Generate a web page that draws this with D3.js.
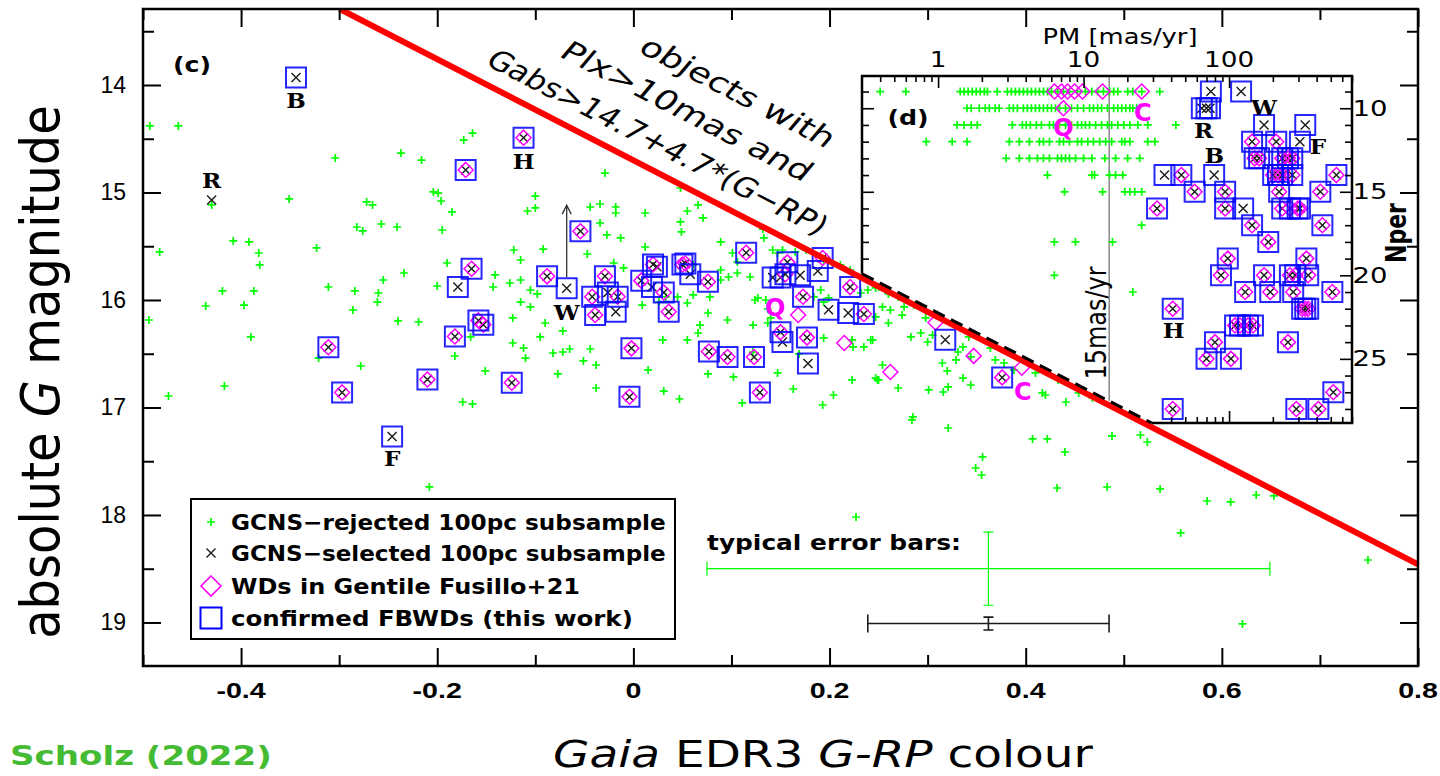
<!DOCTYPE html>
<html><head><meta charset="utf-8">
<script src="https://cdn.jsdelivr.net/npm/d3@7/dist/d3.min.js"></script>
<style>html,body{margin:0;padding:0;background:#fff;}svg{display:block;}</style>
</head><body>
<svg id="chart" width="1440" height="776"></svg>
<script>
// ================= DATA =================
const cRange = [-0.5, 0.8];            // G-RP colour range
const gRange = [13.293, 19.405];       // absolute G range (top -> bottom)
const xMajorTicks = [-0.4, -0.2, 0, 0.2, 0.4, 0.6, 0.8];
const xMinorTicks = [-0.5, -0.3, -0.1, 0.1, 0.3, 0.5, 0.7];
const xTickLabels = ["-0.4", "-0.2", "0", "0.2", "0.4", "0.6", "0.8"];
const yMajorTicks = [14, 15, 16, 17, 18, 19];
const yMinorTicks = [13.5, 14.5, 15.5, 16.5, 17.5, 18.5];
const yTickLabels = ["14", "15", "16", "17", "18", "19"];
const cutA = 14.7, cutB = 4.7;         // Gabs > 14.7 + 4.7*(G-RP)
const insetEdgeOffset = 0.04;          // inset lower edge, parallel to the cut

// GCNS-rejected 100pc subsample  [G-RP, Gabs]
const rejected = [
[-0.493,14.381],[-0.464,14.381],[-0.304,14.679],[-0.237,14.633],[-0.216,14.698],[-0.173,14.512],[-0.164,14.447],
[-0.430,15.116],[-0.351,15.060],[-0.272,15.088],[-0.266,15.116],[-0.257,15.293],[-0.282,15.321],[-0.276,15.358],
[-0.241,15.321],[-0.204,14.995],[-0.199,15.005],[-0.196,15.079],[-0.185,15.181],[-0.195,15.349],[-0.483,15.553],
[-0.408,15.451],[-0.392,15.460],[-0.382,15.563],[-0.323,15.516],[-0.381,15.674],[-0.436,16.056],[-0.419,15.916],
[-0.387,15.916],[-0.397,16.047],[-0.494,16.186],[-0.390,16.344],[-0.321,16.540],[-0.311,15.879],[-0.284,15.916],
[-0.286,16.093],[-0.260,15.935],[-0.261,16.019],[-0.255,15.814],[-0.234,15.749],[-0.200,15.870],[-0.190,15.656],
[-0.141,15.767],[-0.143,15.879],[-0.240,16.195],[-0.219,16.205],[-0.182,16.521],[-0.166,16.344],[-0.278,16.614],
[-0.151,16.660],[-0.174,16.949],[-0.164,16.967],[-0.417,16.800],[-0.474,16.893],[-0.208,17.739],
[-0.029,14.819],[-0.100,15.033],[-0.108,15.172],[-0.100,15.144],[-0.044,15.135],[-0.034,15.107],[-0.018,15.135],
[-0.018,15.191],[0.012,15.191],[0.048,14.958],[0.055,15.172],[0.066,15.116],[0.071,15.237],[0.048,15.274],
[0.049,15.367],[-0.027,15.395],[-0.013,15.423],[-0.047,15.572],[-0.034,15.284],[-0.092,15.526],[-0.122,15.535],
[-0.115,15.628],[-0.126,15.842],[-0.115,15.814],[-0.105,15.907],[-0.098,15.944],[-0.115,16.019],[-0.105,16.065],
[-0.123,16.167],[-0.090,16.214],[-0.072,16.288],[-0.095,16.344],[-0.123,16.400],[-0.112,16.447],[-0.110,16.540],
[-0.082,16.493],[-0.072,16.484],[-0.065,16.456],[-0.044,16.456],[-0.051,16.567],[-0.038,16.605],[-0.077,16.688],
[-0.038,16.819],[0.015,16.651],[0.030,16.372],[0.055,16.372],[0.066,16.307],[0.068,16.233],[0.076,16.121],
[0.096,16.186],[0.122,16.233],[0.102,16.716],[0.076,16.688],[0.031,16.847],[0.047,16.921],[0.111,16.958],
[0.147,16.679],[0.163,16.828],[0.193,16.977],[0.204,16.884],[0.223,16.744],[0.249,16.744],[0.224,16.437],
[0.235,16.437],[0.242,16.372],[0.194,16.353],[0.169,16.502],[0.122,16.484],[0.137,16.214],[0.137,16.084],
[0.127,15.981],[0.119,15.786],[0.106,15.749],[0.089,15.814],[0.097,15.786],[0.078,15.972],[0.055,16.028],
[0.045,15.972],[0.033,15.972],[0.026,16.019],[0.009,16.047],[0.061,15.953],[-0.010,15.702],[-0.020,15.656],
[0.012,15.507],[0.061,15.674],[0.089,15.721],[0.106,15.647],[0.101,15.563],[0.089,15.460],[0.132,15.340],
[0.133,15.423],[0.142,15.535],[0.147,15.563],[0.152,15.535],[0.165,15.553],[0.176,15.535],[0.194,15.628],
[0.199,15.628],[0.211,15.674],[0.221,15.721],[0.235,15.767],[0.250,15.879],[0.239,15.907],[0.232,15.935],
[0.199,15.981],[0.194,16.019],[0.184,15.972],[0.191,15.907],[0.135,16.000],[0.124,16.000],[0.140,16.167],
[0.223,16.372],[0.247,16.726],
[0.247,15.888],[0.260,15.944],[0.270,15.972],[0.254,16.065],[0.262,16.093],[0.276,16.065],[0.274,16.140],
[0.286,16.047],[0.260,16.214],[0.247,16.158],[0.298,16.167],[0.293,16.307],[0.283,16.344],[0.300,16.391],
[0.305,16.326],[0.315,16.586],[0.320,16.660],[0.329,16.558],[0.331,16.484],[0.336,16.437],[0.342,16.344],
[0.344,16.791],[0.336,16.726],[0.321,16.809],[0.316,16.856],[0.301,16.837],[0.270,16.819],[0.250,16.744],
[0.254,16.605],[0.244,16.372],[0.285,17.088],[0.321,17.191],[0.364,16.447],[0.369,16.558],[0.378,16.586],
[0.388,16.651],[0.410,16.679],[0.417,16.865],[0.420,16.884],[0.433,16.744],[0.441,16.949],[0.454,16.865],
[0.468,16.912],[0.344,16.530],
[0.284,17.116],[0.407,17.293],[0.422,17.293],[0.440,17.414],[0.488,17.265],[0.517,17.256],[0.524,17.321],
[0.356,17.460],[0.349,17.563],[0.355,17.628],[0.432,17.749],[0.483,17.740],[0.537,17.758],[0.585,17.870],
[0.609,17.879],[0.635,17.814],[0.653,17.823],[0.227,18.019],[0.558,18.167],[0.749,18.419],[0.621,19.014]
];

// confirmed FBWDs that are also Gentile Fusillo+21 WDs and GCNS-selected [G-RP, Gabs]
const fbwdWdSel = [
[-0.112,14.49],[-0.171,14.79],[-0.054,15.36],[-0.088,15.78],[-0.165,15.71],[-0.158,16.19],[-0.153,16.23],
[-0.182,16.34],[-0.311,16.44],[-0.297,16.86],[-0.210,16.74],[-0.124,16.77],[-0.042,15.97],[-0.029,15.78],
[-0.016,15.97],[-0.039,16.14],[-0.002,16.45],[-0.004,16.90],[0.008,15.82],[0.020,15.67],[0.031,15.93],
[0.036,16.11],[0.050,15.67],[0.053,15.66],[0.076,15.83],[0.077,16.48],[0.096,16.53],[0.115,15.56],
[0.123,16.53],[0.129,16.86],[0.157,15.65],[0.155,15.76],[0.193,15.61],[0.173,15.97],[0.221,15.88],
[0.235,16.13],[0.150,16.30],[0.177,16.35],[0.376,16.72]
];
// confirmed FBWDs, GCNS-selected, not in Gentile Fusillo+21
const fbwdSel = [
[-0.344,13.93],[-0.068,15.89],[-0.246,17.27],[-0.179,15.88],[-0.026,15.93],[-0.018,16.11],[0.024,15.69],
[0.019,15.88],[0.058,15.76],[0.142,15.79],[0.150,15.79],[0.170,15.77],[0.188,15.73],[0.199,16.09],
[0.219,16.12],[0.152,16.39],[0.178,16.59],[0.318,16.37]
];
// WDs in Gentile Fusillo+21 only
const wdOnly = [[0.215,16.40],[0.168,16.14],[0.308,16.21],[0.347,16.52],[0.396,16.63],[0.262,16.67]];
// GCNS-selected only
const selOnly = [[-0.430,15.07]];

// labelled objects: [name, G-RP, Gabs]
const namedMain = [["B",-0.344,13.93],["H",-0.112,14.49],["W",-0.068,15.89],["F",-0.246,17.27]];
const namedSelOnly = [["R",-0.430,15.07]];
const namedWdMain = [["Q",0.168,16.14],["C",0.396,16.63]];

// typical error bars: centre colour, centre G, half-widths
const errC = [0.362, 0.362];
const errG = [18.50, 19.01];
const errDC = [0.287, 0.123];
const errDG = [0.34, 0.06];

// ----- inset (d): PM [mas/yr] vs Nper -----
const pmRange = [0.3, 700];
const nperRange = [8.07, 28.84];
const pmMajorTicks = [1, 10, 100];
const pmMinorTicks = [0.4,0.5,0.6,0.7,0.8,0.9,2,3,4,5,6,7,8,9,20,30,40,50,60,70,80,90,200,300,400,500,600,700];
const nperMajorTicks = [10, 15, 20, 25];
const nperMinorTicks = [9,11,12,13,14,16,17,18,19,21,22,23,24,26,27,28];
const pmLimit = 15;

const insetRejected = [
// Nper 9
[0.40,9],[0.60,9],[1.42,9],[1.51,9],[1.61,9],[1.72,9],[1.83,9],[1.95,9],[2.08,9],[2.18,9],[2.55,9],[2.99,9],
[3.19,9],[3.40,9],[3.62,9],[3.86,9],[4.11,9],[4.38,9],[4.67,9],[4.97,9],[5.30,9],[5.65,9],[6.02,9],[6.62,9],
[7.28,9],[8.00,9],[9.09,9],[10.3,9],[11.4,9],[12.5,9],[13.7,9],[15.1,9],[16.1,9],[17.2,9],[20.1,9],[21.8,9],
[25.1,9],[33.4,9],
// Nper 10
[1.58,10],[1.69,10],[1.92,10],[2.11,10],[2.25,10],[2.47,10],[2.63,10],[3.09,10],[3.29,10],[3.51,10],[3.86,10],
[4.11,10],[4.38,10],[4.67,10],[4.97,10],[5.30,10],[5.65,10],[6.02,10],[6.41,10],[6.83,10],[7.51,10],[8.26,10],
[9.09,10],[10.0,10],[11.0,10],[11.7,10],[12.5,10],[13.3,10],[14.6,10],[16.1,10],[17.2,10],[18.3,10],[19.5,10],
[20.8,10],[21.8,10],[23.2,10],
// Nper 11
[1.35,11],[1.51,11],[1.69,11],[1.86,11],[3.24,11],[3.80,11],[4.04,11],[4.31,11],[4.74,11],[5.13,11],[5.83,11],
[6.21,11],[6.83,11],[7.51,11],[8.26,11],[9.09,11],[9.69,11],[10.3,11],[11.0,11],[12.1,11],[13.3,11],[14.6,11],
[15.6,11],[17.2,11],[18.9,11],[20.8,11],[23.6,11],[27.6,11],[43.1,11],
// Nper 12
[0.83,12],[1.25,12],[1.58,12],[3.09,12],[3.62,12],[4.24,12],[4.97,12],[5.30,12],[5.83,12],[6.83,12],[7.28,12],
[8.00,12],[9.09,12],[9.69,12],[10.7,12],[11.7,12],[12.9,12],[14.2,12],[15.6,12],[18.3,12],[19.2,12],[20.8,12],
[27.6,12],[30.9,12],
// Nper 13
[2.94,13],[3.62,13],[4.24,13],[4.82,13],[5.30,13],[5.83,13],[6.62,13],[7.05,13],[7.51,13],[8.00,13],[8.81,13],
[10.0,13],[11.4,13],[14.0,13],[16.6,13],[20.1,13],[24.3,13],
// Nper 14-21
[5.65,14],[11.4,14],[11.9,14],[15.1,14],[16.6,14],[18.6,14],
[7.39,15],[13.5,15],[19.2,15],[20.8,15],[22.5,15],[25.1,15],
[25.1,17],[6.3,18],[8.8,18],[15.8,18],[6.3,20],[21.8,21]
];
const insetFbwdWdSel = [
[144,12],[211,12],[150,13],[161,13],[232,13],[254,13],[272,13],[47,14],[201,14],[217,14],[232,14],[272,14],
[547,14],[58,15],[94,15],[221,15],[424,15],[32,16],[94,16],[232,16],[262,16],[296,16],[307,16],[144,17],
[438,17],[186,18],[98,19],[340,19],[88,20],[174,20],[262,20],[285,20],[350,20],[129,21],[192,21],[276,21],
[513,21],[41,22],[318,22],[334,22],[350,22],[110,23],[119,23],[135,23],[146,23],[80,24],[254,24],[70,25],
[103,25],[521,27],[41,28],[290,28],[411,28]
];
const insetFbwdSel = [[75,9],[121,9],[65,10],[70,10],[74,10],[174,11],[334,11],[307,12],[79,14],[36,14],[125,16]];
const insetWdOnly = [[6.31,9],[7.05,9],[7.76,9],[8.67,9],[9.83,9],[13.5,9],[25.1,9],[7.27,10]];
const namedInset = [["R",70,10],["W",174,11],["F",307,12],["B",79,14],["H",41,22]];
const namedInsetWd = [["Q",7.27,10],["C",25.1,9]];

const legendLabels = ["GCNS\u2212rejected  100pc  subsample", "GCNS\u2212selected  100pc  subsample",
                      "WDs  in  Gentile  Fusillo+21", "confirmed  FBWDs  (this  work)"];
const cutLabelLines = ["objects  with", "Plx>10mas  and", "Gabs>14.7+4.7*(G\u2212RP)"];

// ================= DRAWING =================
const svg = d3.select('#chart');
const SX = 1.28;   // horizontal glyph stretch of the original rendering
const L = 143, R = 1418, T = 9, B = 666;
const x = d3.scaleLinear().domain(cRange).range([L, R]);
const y = d3.scaleLinear().domain(gRange).range([T, B]);

const COL = {green:'#00ff00', black:'#1a1a1a', mag:'#ff00ff', blue:'#0000ff', red:'#ff0000'};
const FONT = "'DejaVu Sans', 'Liberation Sans', sans-serif";

const plusPath = (px,py,r)=>`M${px-r},${py}H${px+r}M${px},${py-r}V${py+r}`;
const crossPath = (px,py,r)=>`M${px-r},${py-r}L${px+r},${py+r}M${px-r},${py+r}L${px+r},${py-r}`;
const diamondPath = (px,py,r)=>`M${px},${py-r}L${px+r},${py}L${px},${py+r}L${px-r},${py}Z`;
const squarePath = (px,py,r)=>`M${px-r},${py-r}H${px+r}V${py+r}H${px-r}Z`;

function marks(g, data, fx, fy, fn, r, stroke, sw, op){
  g.append('g').selectAll('path').data(data).join('path')
    .attr('d', d => fn(fx(d[0]), fy(d[1]), r))
    .attr('fill','none').attr('stroke',stroke).attr('stroke-width',sw)
    .attr('stroke-opacity', op || 1);
}
function stext(g, px, py, str, o){
  const t = g.append('text')
    .attr('text-anchor', o.anchor || 'middle')
    .attr('dominant-baseline', o.base || 'central')
    .attr('font-family', o.font || FONT)
    .attr('font-size', o.size)
    .attr('font-weight', o.weight || 'normal')
    .attr('fill', o.fill || '#000')
    .text(str);
  let sx = o.sx || SX;
  if (o.fitW) sx = o.fitW / t.node().getComputedTextLength();   // horizontal stretch to measured width
  t.attr('transform', `translate(${px},${py}) scale(${sx},1)${o.rot?` rotate(${o.rot})`:''}`);
  if (o.len) t.attr('textLength', o.len).attr('lengthAdjust','spacingAndGlyphs');
  return t;
}

const defs = svg.append('defs');
defs.append('clipPath').attr('id','mainClip').append('rect')
  .attr('x',L).attr('y',T).attr('width',R-L).attr('height',B-T);

const plot = svg.append('g').attr('clip-path','url(#mainClip)');

// main scatter
const allSel = fbwdWdSel.concat(fbwdSel, selOnly);
marks(plot, rejected, x, y, plusPath, 4, COL.green, 1.7);
marks(plot, allSel, x, y, crossPath, 4.5, COL.black, 1.4);
marks(plot, fbwdWdSel.concat(wdOnly), x, y, diamondPath, 7.5, COL.mag, 1.5);
marks(plot, fbwdWdSel.concat(fbwdSel), x, y, squarePath, 10, COL.blue, 2, 0.85);

// cut line
const cTop = (gRange[0] - cutA) / cutB;
plot.append('line')
  .attr('x1', x(cTop)).attr('y1', y(gRange[0]))
  .attr('x2', x(cRange[1])).attr('y2', y(cutA + cutB*cRange[1]))
  .attr('stroke', COL.red).attr('stroke-width', 6);

// error bars
const errCols = [COL.green, COL.black];
errC.forEach((c,i)=>{
  const g = plot.append('g').attr('stroke', errCols[i]).attr('stroke-width', i ? 1.6 : 1.2).attr('fill','none');
  const x0 = x(c - errDC[i]), x1 = x(c + errDC[i]), yc = y(errG[i]);
  const y0 = y(errG[i] - errDG[i]), y1 = y(errG[i] + errDG[i]), xc = x(c);
  const cap = i ? 9 : 7, capv = 5;
  g.append('path').attr('d', `M${x0},${yc}H${x1}M${x0},${yc-cap}V${yc+cap}M${x1},${yc-cap}V${yc+cap}`);
  g.append('path').attr('d', `M${xc},${y0}V${y1}M${xc-capv},${y0}H${xc+capv}M${xc-capv},${y1}H${xc+capv}`);
});
stext(svg, 707, 543, "typical  error  bars:", {size:21, anchor:'start', fitW:254, weight:'bold'});

// W arrow
{
  const wx = x(namedMain[2][1]), wy = y(namedMain[2][2]);
  svg.append('path').attr('d', `M${wx},${wy-11}V${wy-83}M${wx-4.5},${wy-74}L${wx},${wy-83}L${wx+4.5},${wy-74}`)
    .attr('fill','none').attr('stroke','#333').attr('stroke-width',1.3);
}

// labels of named objects
const SERIF = "'DejaVu Serif', 'Liberation Serif', serif";
const mainOff = {B:[0,23], H:[0,24], W:[0,24], F:[0,22]};
namedMain.forEach(d=>{
  stext(svg, x(d[1])+mainOff[d[0]][0], y(d[2])+mainOff[d[0]][1], d[0], {size:21, weight:'bold', font:SERIF, sx:1.1});
});
namedSelOnly.forEach(d=> stext(svg, x(d[1]), y(d[2])-20, d[0], {size:21, weight:'bold', font:SERIF, sx:1.1}));
const wdOff = {Q:[-23,-7], C:[1,24]};
namedWdMain.forEach(d=> stext(svg, x(d[1])+wdOff[d[0]][0], y(d[2])+wdOff[d[0]][1], d[0],
  {size:24, weight:'bold', fill:COL.mag, sx:1.0}));

// (c)
stext(svg, 192, 65, "(c)", {size:22, weight:'bold', sx:1.15});

// rotated annotation along the cut: [mid x, baseline y, length along the line]
const slope = cutB * (y(15)-y(14)) / (x(1)-x(0));           // pixel slope of the cut
const angText = Math.atan(slope * SX) * 180/Math.PI;          // angle before horizontal stretch
const aR = angText*Math.PI/180;
const alongF = Math.hypot(SX*Math.cos(aR), Math.sin(aR));
const rotPos = [[731.5, 100, 213], [680.5, 119, 276], [651, 150, 376]];
cutLabelLines.forEach((t,i)=>{
  const p = rotPos[i];
  stext(svg, p[0], p[1], t, {size:27, rot:angText, base:'alphabetic', len:p[2]/alongF});
});

// ----- inset -----
const ix = d3.scaleLog().domain(pmRange).range([862, 1352]);
const iy = d3.scaleLinear().domain(nperRange).range([76, 423]);
const iL = 862, iR = 1352, iT = 76, iB = 423;
const edgeY = px => y(cutA + cutB * x.invert(px) - insetEdgeOffset);
const pA = [iL, edgeY(iL)];
const cB = (y.invert(iB) + insetEdgeOffset - cutA) / cutB;
const pB = [x(cB), iB];
const poly = [pA, [iL,iT], [iR,iT], [iR,iB], pB];
svg.append('path').attr('d', 'M' + poly.map(p=>p.join(',')).join('L') + 'Z').attr('fill','#fff');
defs.append('clipPath').attr('id','insetClip').append('path')
  .attr('d', 'M' + poly.map(p=>p.join(',')).join('L') + 'Z');
const inset = svg.append('g').attr('clip-path','url(#insetClip)');

// 15 mas/yr line
const pmX = ix(pmLimit);
inset.append('line').attr('x1',pmX).attr('x2',pmX).attr('y1',iT).attr('y2',edgeY(pmX))
  .attr('stroke','#777').attr('stroke-width',1.3);
stext(svg, pmX-13, 323, "15mas/yr", {size:22, rot:-90, sx:1.25, len:113});

marks(inset, insetRejected, ix, iy, plusPath, 4, COL.green, 1.7);
marks(inset, insetFbwdWdSel.concat(insetFbwdSel), ix, iy, crossPath, 4.5, COL.black, 1.4);
marks(inset, insetFbwdWdSel.concat(insetWdOnly), ix, iy, diamondPath, 7.5, COL.mag, 1.5);
marks(inset, insetFbwdWdSel.concat(insetFbwdSel), ix, iy, squarePath, 10, COL.blue, 2, 0.85);

const insOff = {R:[-3,22], W:[0,-18], F:[18,5], B:[0,-20], H:[1,22]};
namedInset.forEach(d=> stext(svg, ix(d[1])+insOff[d[0]][0], iy(d[2])+insOff[d[0]][1], d[0],
  {size:21, weight:'bold', font:SERIF, sx:1.1}));
const insWdOff = {Q:[0,20], C:[1,21]};
namedInsetWd.forEach(d=> stext(svg, ix(d[1])+insWdOff[d[0]][0], iy(d[2])+insWdOff[d[0]][1], d[0],
  {size:24, weight:'bold', fill:COL.mag, sx:1.0}));
stext(svg, 908, 118, "(d)", {size:22, weight:'bold', sx:1.15});

// inset axes
function tickAxis(axisFn, scale, vals, size, tr, clipFn){
  const g = svg.append('g').attr('transform', tr)
    .call(axisFn(scale).tickValues(vals.filter(clipFn||(()=>true))).tickSize(size).tickFormat(''));
  g.select('.domain').remove();
  g.selectAll('line').attr('stroke','#000').attr('stroke-width',1.6);
  return g;
}
tickAxis(d3.axisTop, ix, pmMajorTicks, -12, `translate(0,${iT})`);
tickAxis(d3.axisTop, ix, pmMinorTicks, -6, `translate(0,${iT})`);
tickAxis(d3.axisBottom, ix, pmMajorTicks, -12, `translate(0,${iB})`, v=>ix(v)>pB[0]+2);
tickAxis(d3.axisBottom, ix, pmMinorTicks, -6, `translate(0,${iB})`, v=>ix(v)>pB[0]+2);
tickAxis(d3.axisLeft, iy, nperMajorTicks, -12, `translate(${iL},0)`, v=>iy(v)<pA[1]-3);
tickAxis(d3.axisLeft, iy, nperMinorTicks, -7, `translate(${iL},0)`, v=>iy(v)<pA[1]-3);
tickAxis(d3.axisRight, iy, nperMajorTicks, -12, `translate(${iR},0)`);
tickAxis(d3.axisRight, iy, nperMinorTicks, -7, `translate(${iR},0)`);
pmMajorTicks.forEach(v=> stext(svg, ix(v), 60, String(v), {size:21, sx:1.25}));
nperMajorTicks.forEach(v=> stext(svg, 1370, iy(v), String(v), {size:22, sx:1.25}));
stext(svg, 1120, 37, "PM [mas/yr]", {size:22, fitW:155});
stext(svg, 1397, 233, "Nper", {size:22, rot:-90, sx:1.25, weight:'bold'});

// inset frame
svg.append('path').attr('d', `M${pA[0]},${pA[1]}V${iT}H${iR}V${iB}H${pB[0]}`)
  .attr('fill','none').attr('stroke','#000').attr('stroke-width',2.5);
svg.append('line').attr('x1',pA[0]).attr('y1',pA[1]).attr('x2',pB[0]).attr('y2',pB[1])
  .attr('stroke','#000').attr('stroke-width',3).attr('stroke-dasharray','13,7');

// ----- main axes -----
function mainTicks(axisFn, scale, vals, size, tr){
  const g = svg.append('g').attr('transform', tr)
    .call(axisFn(scale).tickValues(vals).tickSize(size).tickFormat(''));
  g.select('.domain').remove();
  g.selectAll('line').attr('stroke','#000').attr('stroke-width',2);
}
mainTicks(d3.axisBottom, x, xMajorTicks, -18, `translate(0,${B})`);
mainTicks(d3.axisBottom, x, xMinorTicks, -11, `translate(0,${B})`);
mainTicks(d3.axisTop, x, xMajorTicks, -18, `translate(0,${T})`);
mainTicks(d3.axisTop, x, xMinorTicks, -11, `translate(0,${T})`);
mainTicks(d3.axisLeft, y, yMajorTicks, -18, `translate(${L},0)`);
mainTicks(d3.axisLeft, y, yMinorTicks, -11, `translate(${L},0)`);
mainTicks(d3.axisRight, y, yMajorTicks, -18, `translate(${R},0)`);
mainTicks(d3.axisRight, y, yMinorTicks, -11, `translate(${R},0)`);
svg.append('rect').attr('x',L).attr('y',T).attr('width',R-L).attr('height',B-T)
  .attr('fill','none').attr('stroke','#000').attr('stroke-width',2.5);

const NARROW = "'Liberation Sans Narrow', 'Liberation Sans', sans-serif";
xMajorTicks.forEach((v,i)=> stext(svg, x(v), 690, xTickLabels[i],
  {size:22, weight:'bold', font:NARROW, sx:1.3}));
yMajorTicks.forEach((v,i)=> stext(svg, 126, y(v), yTickLabels[i], {size:23, anchor:'end', font:"'Liberation Sans', sans-serif", sx:1.0}));

// legend
const lg = svg.append('g');
lg.append('rect').attr('x',191).attr('y',499).attr('width',484).attr('height',140)
  .attr('fill','#fff').attr('stroke','#000').attr('stroke-width',2);
const lgY = [522, 553, 586, 618];
const lgLen = [435, 435, 349, 402];
lg.append('path').attr('d', plusPath(211, lgY[0], 4)).attr('stroke',COL.green).attr('stroke-width',1.7);
lg.append('path').attr('d', crossPath(211, lgY[1], 4.5)).attr('stroke',COL.black).attr('stroke-width',1.4);
lg.append('path').attr('d', diamondPath(211, lgY[2], 10)).attr('stroke',COL.mag).attr('stroke-width',1.6).attr('fill','none');
lg.append('path').attr('d', squarePath(211, lgY[3], 10.5)).attr('stroke',COL.blue).attr('stroke-width',2).attr('fill','none');
legendLabels.forEach((t,i)=> stext(lg, 231, lgY[i], t, {size:22, anchor:'start', weight:'bold', fitW:lgLen[i]}));

// axis titles
const yt = svg.append('text')
  .attr('transform', `translate(40,372) scale(1.12,1) rotate(-90)`)
  .attr('text-anchor','middle').attr('dominant-baseline','central')
  .attr('font-family', FONT).attr('font-size', 48);
yt.append('tspan').text('absolute ');
yt.append('tspan').attr('font-style','italic').text('G');
yt.append('tspan').text(' magnitude');

const xt = svg.append('text')
  .attr('transform', `translate(823,754) scale(${SX},1)`)
  .attr('text-anchor','middle').attr('dominant-baseline','central')
  .attr('font-family', FONT).attr('font-size', 36.7);
xt.append('tspan').attr('font-style','italic').text('Gaia');
xt.append('tspan').text(' EDR3 ');
xt.append('tspan').attr('font-style','italic').text('G-RP');
xt.append('tspan').text(' colour');

stext(svg, 10, 756, "Scholz (2022)", {size:26, anchor:'start', weight:'bold', fill:'#44bb33', fitW:262});
</script>
</body></html>
